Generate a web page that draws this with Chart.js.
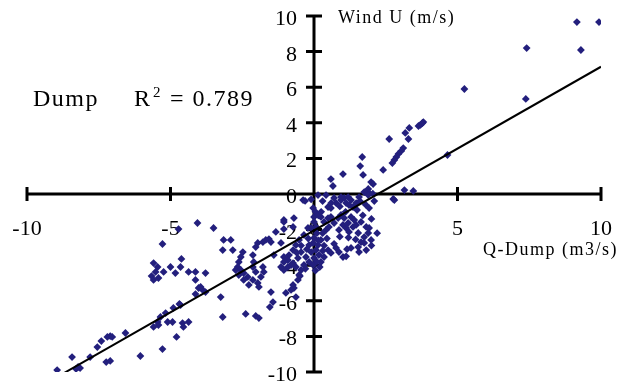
<!DOCTYPE html>
<html>
<head>
<meta charset="utf-8">
<script src="https://cdn.jsdelivr.net/npm/chart.js@4/dist/chart.umd.min.js"></script>
<style>
  html, body { margin: 0; padding: 0; background: #fff; }
  canvas { display: block; }
</style>
</head>
<body>
<canvas id="chart" width="617" height="384"></canvas>
<script>
// --- data ---
const xTicks = [-10, -5, 0, 5, 10];
const yTicks = [-10, -8, -6, -4, -2, 0, 2, 4, 6, 8, 10];

const qDump = [
  9.16, 9.93, 7.41, 9.30, 5.24, 7.38, 4.65, 3.71, 3.81, 3.78, 3.64, 3.32, 3.18, 3.29, 2.62, 3.11,
  3.04, 2.94, 2.87, 2.80, 2.73, 2.41, 1.68, 1.61, 1.71, 1.01, 0.59, 0.66, 1.99, 2.06, 1.82, 1.89,
  1.92, 3.15, 3.46, 0.42, 2.76,
  -0.38, -0.31, 0.14, 0.70, 0.77, 0.94, 1.05, 1.19, 1.29, 1.12, 1.22, 1.36, 1.47, 1.57, 1.75, 1.89,
  2.05, 2.80, 1.92, 0.49, 0.59, -0.03, 0.94,
  -0.70, -1.05, 0.00, 0.00, 0.07, 0.24, 0.35, 0.49, 0.59, 0.70, 0.52, 0.42, 0.84, 0.94, 1.05, 1.19,
  1.29, 1.40, 1.01, 1.12, 0.87, 1.22, 1.36, 1.47, 1.64, 1.54, 1.82, 1.92, 1.89, 1.75, 1.99, 1.64,
  0.00, -0.03, 0.14, 0.24, 0.07, -0.10, 0.17, 0.00, -0.17, -0.03, 0.24, 0.35, 0.49, 0.59, 0.77, 0.87,
  1.01, 1.12, 1.29, 1.54, 1.75, 1.57, 1.82,
  -0.21, -0.35, -0.52, -0.63, -0.73, -0.87, -1.05, -0.45, -0.56, -0.73, -0.91, -1.05, -0.63, -0.45, -0.35, -0.28,
  -0.17, -0.49, -1.05, -0.91, -0.80, -1.15,
  -4.06, -3.50, -3.15, -3.18, -2.83, -2.48, -2.55, -2.62, -2.66, -2.73, -2.55, -2.45, -2.62, -2.31, -2.45, -2.27,
  -2.13, -1.96, -1.92, -1.85, -2.03, -1.78, -1.75, -2.13, -2.10, -2.13, -2.03, -1.96, -1.78, -1.68, -1.57, -1.50,
  -1.15, -1.33, -1.05, -1.05, -0.73, -1.40, -0.52, -0.56, -0.73, -0.70, -1.50, -1.43, -0.63, -4.13, -3.78, -4.13,
  -4.02, -3.88, -3.78, -3.25, -0.98, -0.80,
  -4.72, -5.28, -5.59, -5.45, -5.52, -5.66, -5.59, -5.42, -5.24, -5.00, -4.83, -4.62, -4.65, -4.37, -3.95, -4.13,
  -4.69, -2.90,
  -4.65, -4.90, -5.17, -5.35, -5.45, -5.59, -5.42, -5.10, -4.93, -4.58, -4.37, -4.55, -4.79, -5.28, -6.05, -6.57,
  -7.10, -7.20, -7.03, -7.41, -7.55, -7.80, -7.24, -7.10, -8.43, -8.22, -8.15, -8.29, -8.95, -3.18, -2.38, -2.03,
  -1.92, -1.54,
  // dense core near the origin
  0.05, 0.15, 0.25, -0.10, 0.10, 0.30, -0.20, 0.15, 0.35, -0.25, 0.30, 0.10, -0.30, 0.45, -0.45, -0.60,
  0.20, 0.05, 1.50, 1.70, 1.80, 2.00, 2.10, 1.60, 0.90, 1.10, 0.60, 0.30, -0.10, 2.20, 2.00, 1.45,
  1.20, 0.90, 0.70, 1.15
];

const windU = [
  9.66, 9.66, 8.20, 8.09, 5.90, 5.34, 2.19, 3.88, 4.04, 3.99, 3.82, 3.71, 3.43, 3.09, 3.09, 2.58,
  2.42, 2.25, 2.08, 1.91, 1.74, 1.35, 2.08, 1.57, 1.07, 1.12, 0.84, 0.45, 0.67, 0.56, 0.11, 0.28,
  0.06, 0.22, 0.17, -0.06, -0.28,
  -0.34, -0.39, -0.06, -0.22, -0.51, -0.34, -0.22, -0.17, -0.34, -0.51, -0.62, -0.73, -0.51, -0.17, 0.11, -0.06,
  0.02, -0.34, -0.79, -0.73, -0.79, -0.79, -0.17,
  -1.35, -1.46, -1.29, -1.57, -1.85, -1.29, -1.57, -1.35, -1.29, -1.63, -1.85, -2.02, -1.35, -1.18, -1.35, -1.63,
  -1.29, -1.46, -1.74, -1.91, -2.02, -2.13, -1.85, -1.74, -1.57, -2.19, -1.85, -1.91, -2.19, -2.42, -2.58, -2.70,
  -2.47, -2.75, -2.87, -2.58, -3.15, -3.26, -3.43, -3.60, -3.82, -3.99, -3.82, -3.54, -3.15, -3.31, -3.03, -3.26,
  -3.54, -3.50, -3.03, -2.98, -2.75, -3.26, -3.15,
  -1.91, -2.30, -2.58, -2.87, -3.15, -3.43, -3.54, -3.26, -3.60, -3.88, -4.10, -4.27, -4.10, -4.27, -3.99, -3.54,
  -2.87, -4.61, -3.82, -3.71, -3.99, -4.10,
  -1.63, -1.91, -2.58, -3.15, -3.15, -3.26, -3.54, -3.82, -4.10, -4.27, -4.27, -4.44, -4.55, -4.66, -4.83, -5.11,
  -4.83, -5.00, -5.22, -4.66, -4.38, -4.10, -4.38, -4.10, -3.82, -3.43, -2.98, -2.75, -2.70, -2.58, -2.53, -2.70,
  -2.75, -2.13, -1.97, -1.57, -1.85, -3.43, -4.55, -4.83, -5.11, -5.28, -5.51, -6.07, -5.79, -4.38, -4.44, -4.83,
  -5.28, -5.39, -5.51, -5.79, -5.56, -5.39,
  -1.97, -2.81, -3.88, -4.10, -4.38, -4.61, -4.83, -4.72, -4.38, -4.10, -4.44, -3.65, -4.10, -4.38, -5.22, -5.62,
  -6.18, -2.58,
  -6.24, -6.40, -6.69, -6.91, -7.19, -7.47, -7.36, -7.19, -7.19, -7.25, -7.19, -7.47, -8.03, -8.71, -9.10, -7.81,
  -7.98, -8.03, -8.03, -8.26, -8.60, -9.16, -9.44, -9.38, -9.16, -9.72, -9.78, -9.83, -9.89, -6.91, -6.74, -6.85,
  -6.97, -6.35,
  // dense core near the origin
  -1.00, -1.20, -1.00, -1.90, -2.20, -2.20, -2.50, -2.60, -2.90, -3.10, -3.20, -3.80, -4.20, -2.50, -2.90, -3.30,
  -4.10, -4.30, -0.90, -1.20, -0.60, -1.40, -0.40, -0.40, -0.70, -1.00, -0.50, -0.40, -0.30, -2.20, -2.90, -2.55,
  -2.45, -2.40, -2.80, -3.10
];

// trend line end points
const fitX = [-8.7, 10];
const fitY = [-10.05, 7.15];

const SERIF = '"Liberation Serif", "Times New Roman", serif';

// axes cross at the origin, ticks go through the line on both sides
const crossAxes = {
  id: 'crossAxes',
  beforeDatasetsDraw(chart) {
    const { ctx, scales: { x, y } } = chart;
    const x0 = x.getPixelForValue(0);
    const y0 = y.getPixelForValue(0);
    ctx.save();
    ctx.strokeStyle = '#000';
    ctx.lineWidth = 3;
    ctx.beginPath();
    ctx.moveTo(x.getPixelForValue(xTicks[0]), y0);
    ctx.lineTo(x.getPixelForValue(xTicks[xTicks.length - 1]), y0);
    ctx.moveTo(x0, y.getPixelForValue(yTicks[0]));
    ctx.lineTo(x0, y.getPixelForValue(yTicks[yTicks.length - 1]));
    xTicks.forEach(v => {
      const px = x.getPixelForValue(v);
      ctx.moveTo(px, y0 - 7);
      ctx.lineTo(px, y0 + 7);
    });
    yTicks.forEach(v => {
      const py = y.getPixelForValue(v);
      ctx.moveTo(x0 - 8, py);
      ctx.lineTo(x0 + 8, py);
    });
    ctx.stroke();

    ctx.fillStyle = '#000';
    ctx.font = `22px ${SERIF}`;
    ctx.textBaseline = 'alphabetic';
    ctx.textAlign = 'center';
    xTicks.forEach(v => ctx.fillText(String(v), x.getPixelForValue(v), y0 + 41));
    ctx.textAlign = 'right';
    yTicks.forEach(v => ctx.fillText(String(v), x0 - 17, y.getPixelForValue(v) + 9));

    // axis titles and the fit note
    ctx.textAlign = 'left';
    ctx.letterSpacing = '1.5px';
    ctx.font = `18px ${SERIF}`;
    ctx.fillText('Wind U (m/s)', 338, 23);
    ctx.fillText('Q-Dump (m3/s)', 483, 255);
    ctx.font = `24px ${SERIF}`;
    ctx.fillText('Dump', 33, 106);
    ctx.fillText('R', 134, 106);
    ctx.fillText('= 0.789', 170, 106);
    ctx.font = `15px ${SERIF}`;
    ctx.fillText('2', 153, 97);
    ctx.restore();
  }
};

new Chart(document.getElementById('chart'), {
  type: 'scatter',
  data: {
    datasets: [
      {
        label: 'fit',
        data: fitX.map((v, i) => ({ x: v, y: fitY[i] })),
        showLine: true,
        borderColor: '#000',
        borderWidth: 2,
        pointRadius: 0,
      },
      {
        label: 'Dump',
        data: qDump.map((v, i) => ({ x: v, y: windU[i] })),
        pointStyle: 'rectRot',
        pointRadius: 3.9,
        backgroundColor: '#231f7d',
        borderColor: '#231f7d',
        borderWidth: 0,
      },
    ],
  },
  options: {
    responsive: false,
    animation: false,
    devicePixelRatio: 1,
    layout: { padding: { left: 27, right: 16, top: 16, bottom: 12 } },
    plugins: { legend: { display: false }, tooltip: { enabled: false } },
    scales: {
      x: { type: 'linear', min: -10, max: 10, display: false },
      y: { type: 'linear', min: -10, max: 10, display: false },
    },
  },
  plugins: [crossAxes],
});
</script>
</body>
</html>
